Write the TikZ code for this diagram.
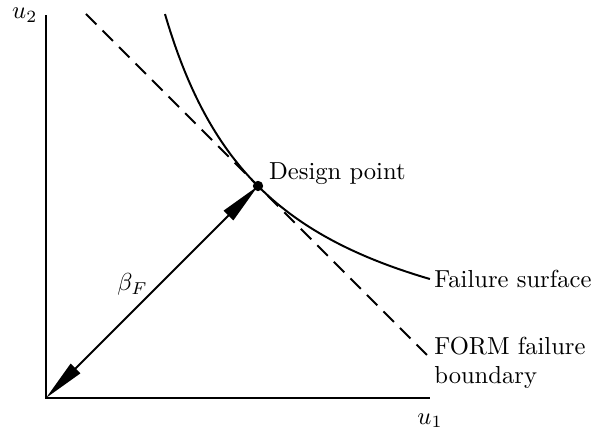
\documentclass[tikz,border=0pt]{standalone}
\usepackage{amsmath}
\usetikzlibrary{arrows.meta, positioning}
\tikzset{
  every picture/.style={>={Triangle[length=17pt, width=5.4pt]}},
  eje/.style={thick},
  superficie/.style={thick},
  lineal/.style={thick, dash pattern=on 6pt off 3.5pt},
  flechab/.style={<->, thick},
  punto/.style={circle, fill, inner sep=0pt, minimum size=4.2pt},
  etiq/.style={right=0.6pt, inner sep=1pt, align=left},
}

\begin{document}
\begin{tikzpicture}
  \useasboundingbox (-0.657,-0.443) rectangle (7.829,5.686);
  % axes
  \coordinate (O) at (0,0);
  \coordinate (ytop) at (0,5.471);
  \coordinate (xend) at (5.486,0);
  \draw[eje] (ytop) -- (O) -- (xend);
  \node[left] (u2) at (ytop) {$u_2$};
  \node[below=2.8pt] (u1) at (xend) {$u_1$};
  % failure surface and its linearisation
  \coordinate (dp) at (3.029,3.029);
  \coordinate (fsend) at (5.486,1.70);
  \draw[superficie] plot[domain=1.7:5.486, samples=80] (\x, {0.136+8.366/(\x-0.136)});
  \coordinate (fb1) at (0.571,5.486);
  \coordinate (fb2) at (5.486,0.571);
  \draw[lineal] (fb1) -- (fb2);
  % reliability index
  \draw[flechab] (O) -- (dp) node[midway, left=-2pt, yshift=3pt] (bf) {$\beta_F$};
  \node[punto] (dpn) at (dp) {};
  \node[right=1pt, yshift=5pt] (dlab) at (dp) {Design point};
  \node[etiq] (fs) at (fsend) {Failure surface};
  \node[etiq, yshift=-2pt] (fb) at (fb2) {FORM failure\\boundary};
\end{tikzpicture}
\end{document}
